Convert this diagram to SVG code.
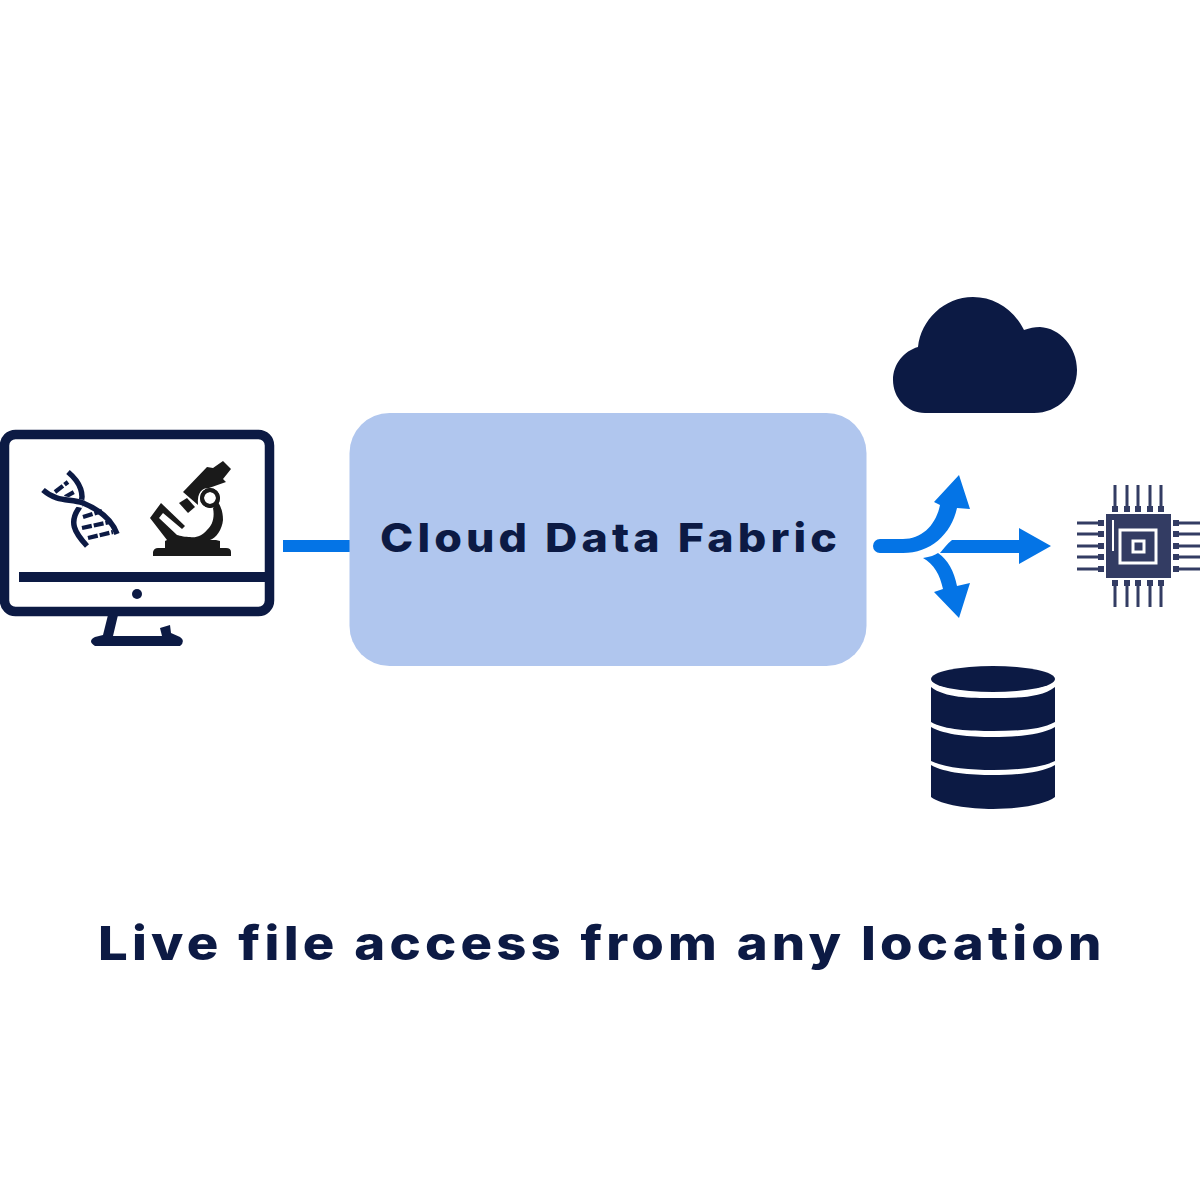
<svg xmlns="http://www.w3.org/2000/svg" width="1200" height="1200" viewBox="0 0 1200 1200">
<style>
.n{fill:#0c1a44}.k{fill:#1a1a1a}.b{fill:#0474e6}
.t{font-family:"Inter","Liberation Sans",sans-serif;font-weight:800;fill:#0c1a44}
.ds{fill:none;stroke:#0c1a44;stroke-width:5.500}
.dh{fill:none;stroke:#fff;stroke-width:8}
.dr{fill:none;stroke:#0c1a44;stroke-width:4.200;stroke-dasharray:10 2}
.pin{fill:none;stroke:#333c63;stroke-width:3}
.pad{fill:#333c63}
</style>
<rect width="1200" height="1200" fill="#fff"/>
<g id="connectors">
<rect class="b" x="283" y="540" width="68" height="12"/>
<path class="b" d="M880 539H903C922 539 936 525 940 505L934 502L959 475L970 509L957 508C951 535 930 553 903 553H880A7 7 0 0 1 880 539Z"/>
<path class="b" d="M952 540H1019V528L1051 546L1019 564V553H940C944 548 947 544 952 540Z"/>
<path class="b" d="M923 558C930 557 935 555 938 553C948 560 954 571 957 586L970 583L959 618L934 592L943 589C940 575 934 564 923 558Z"/>
</g>
<g id="fabric">
<rect x="349.500" y="413" width="517" height="253" rx="40" fill="#b0c6ee"/>
<text class="t" transform="translate(380 552) scale(1.12 1)" font-size="40" textLength="408" lengthAdjust="spacing">Cloud Data Fabric</text>
</g>
<g id="monitor">
<rect x="4.500" y="434.500" width="265" height="177" rx="11" fill="#fff" stroke="#0c1a44" stroke-width="9.500"/>
<rect class="n" x="19" y="572" width="248" height="10"/>
<circle class="n" cx="137" cy="594" r="5"/>
<path class="n" d="M108 615H118L113 636H162L160 628L170 625L171 633L180 637Q186 641 180 646H95Q87 641 95 637L103 635Z"/>
</g>
<g id="dna">
<path class="dr" d="M55 492L68 482"/><path class="dr" d="M65 497L74 492"/>
<path class="dr" d="M83 517L102 511"/><path class="dr" d="M82 528L110 522"/><path class="dr" d="M88 538L113 532"/>
<path class="ds" d="M68 472C80 482 86 495 79 508C69 522 74 532 87 546"/>
<path class="dh" d="M60 499C66 501 73 502 83 504"/>
<path class="ds" d="M43 490C58 503 70 498 83 503C100 510 112 520 117 534"/>
</g>
<g id="microscope">
<path class="k" d="M153 556V552Q154 548 158 548H165V541L167 540C172 538 175 537 177 535L159 518L163 513L182 529L185 526L161 503L150 518L167 540H210C216 538 222 530 223 520C223 512 221 507 218 502L213 508C215 518 212 526 207 530C202 536 196 538 190 537C186 537 180 536 177 535L167 540H216L220 541V548H226Q231 548 231 552V556Z"/>
<path class="k" d="M183 492L207 467L213 468L223 461L231 469L223 479L226 482L209 488C202 488 197 492 198 505Z"/>
<path class="k" d="M179 503L187 498L195 507L188 513Z"/>
<circle cx="210" cy="498" r="8" fill="#fff" stroke="#1a1a1a" stroke-width="4"/>
<circle cx="210" cy="498" r="8" fill="none" stroke="#1a1a1a" stroke-width="4"/>
<circle cx="210" cy="498" r="3" fill="#fff"/>
</g>
<g id="cloud">
<path class="n" d="M925 413C907 413 893 398 893 380C893 364 904 351 918 347C921 320 944 297 973 297C995 297 1014 310 1024 330C1030 328 1034 327 1040 327C1060 328 1077 347 1077 370C1077 394 1058 413 1034 413Z"/>
</g>
<g id="chip">
<rect class="pad" x="1106" y="514" width="65" height="64"/>
<rect x="1120" y="530" width="36" height="33" fill="none" stroke="#fff" stroke-width="3"/>
<rect x="1133" y="541" width="11" height="11" fill="none" stroke="#fff" stroke-width="3"/>
<rect x="1112" y="520" width="2" height="31" fill="#fff"/>
<path class="pin" d="M1115 485V510M1127 485V510M1138 485V510M1150 485V510M1161 485V510M1115 582V607M1127 582V607M1138 582V607M1150 582V607M1161 582V607M1077 523H1102M1077 534H1102M1077 546H1102M1077 557H1102M1077 569H1102M1175 523H1200M1175 534H1200M1175 546H1200M1175 557H1200M1175 569H1200"/>
<path class="pad" d="M1112 506h6v6h-6zM1124 506h6v6h-6zM1135 506h6v6h-6zM1147 506h6v6h-6zM1158 506h6v6h-6zM1112 580h6v6h-6zM1124 580h6v6h-6zM1135 580h6v6h-6zM1147 580h6v6h-6zM1158 580h6v6h-6zM1098 520h6v6h-6zM1098 531h6v6h-6zM1098 543h6v6h-6zM1098 554h6v6h-6zM1098 566h6v6h-6zM1173 520h6v6h-6zM1173 531h6v6h-6zM1173 543h6v6h-6zM1173 554h6v6h-6zM1173 566h6v6h-6z"/>
</g>
<g id="database">
<ellipse class="n" cx="993" cy="679" rx="62" ry="13"/>
<path class="n" d="M931 687C945 698 970 698 993 698C1016 698 1041 698 1055 687V722C1041 730 1016 731 993 731C970 731 945 730 931 722Z"/>
<path class="n" d="M931 727C945 735 970 737 993 737C1016 737 1041 735 1055 727V761C1041 768 1016 770 993 770C970 770 945 768 931 761Z"/>
<path class="n" d="M931 765C945 773 970 775 993 775C1016 775 1041 773 1055 765V797C1045 805 1016 809 993 809C970 809 941 805 931 797Z"/>
</g>
<text class="t" transform="translate(98 960) scale(1.12 1)" font-size="47" textLength="896" lengthAdjust="spacing">Live file access from any location</text>
</svg>
